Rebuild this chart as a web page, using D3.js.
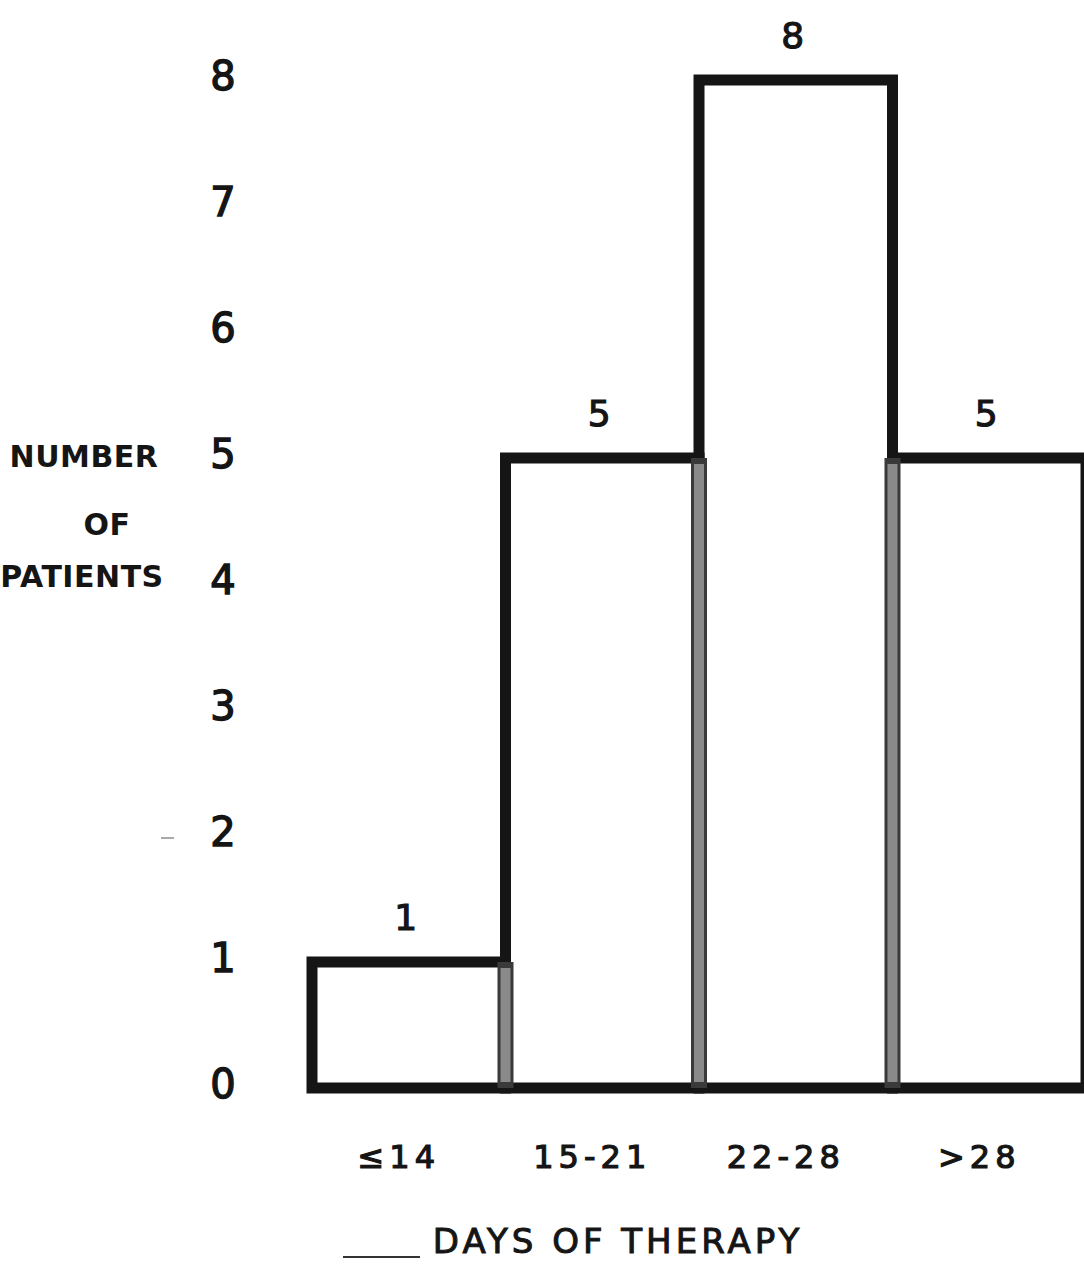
<!DOCTYPE html>
<html>
<head>
<meta charset="utf-8">
<script src="https://cdn.jsdelivr.net/npm/d3@7"></script>
<style>
  body { margin: 0; background: #fff; }
  svg { display: block; }
</style>
</head>
<body>
<svg id="chart"></svg>
<script>
const categories = ['≤14', '15-21', '22-28', '>28'];
const counts = [1, 5, 8, 5];
const yTicks = [0, 1, 2, 3, 4, 5, 6, 7, 8];

const width = 1084, height = 1264;
const ink = '#151515';

const svg = d3.select('#chart')
    .attr('width', width)
    .attr('height', height)
    .style('font-family', 'DejaVu Sans, sans-serif');

svg.append('rect').attr('width', width).attr('height', height).attr('fill', '#fff');

const x = d3.scaleBand()
    .domain(categories)
    .range([312, 1086])
    .padding(0);

const y = d3.scaleLinear()
    .domain([0, 8])
    .range([1088, 80]);

// bars
svg.selectAll('.bar')
    .data(categories)
    .enter()
    .append('rect')
    .attr('class', 'bar')
    .attr('x', d => x(d))
    .attr('y', (d, i) => y(counts[i]))
    .attr('width', x.bandwidth())
    .attr('height', (d, i) => y(0) - y(counts[i]))
    .attr('fill', 'none')
    .attr('stroke', ink)
    .attr('stroke-width', 11);

// shared edges look grey (double stroke in the scan)
const shared = categories.slice(1).map((c, i) => ({
    x: x(c),
    top: y(Math.min(counts[i], counts[i + 1]))
}));

svg.selectAll('.shared')
    .data(shared)
    .enter()
    .append('line')
    .attr('x1', d => d.x)
    .attr('x2', d => d.x)
    .attr('y1', d => d.top)
    .attr('y2', y(0))
    .attr('stroke', '#3a3a3a')
    .attr('stroke-width', 16);

svg.selectAll('.shared-in')
    .data(shared)
    .enter()
    .append('line')
    .attr('x1', d => d.x)
    .attr('x2', d => d.x)
    .attr('y1', d => d.top + 6)
    .attr('y2', y(0) - 6)
    .attr('stroke', '#8a8a8a')
    .attr('stroke-width', 10);

// y tick numbers
svg.selectAll('.ytick')
    .data(yTicks)
    .enter()
    .append('text')
    .attr('class', 'ytick')
    .attr('x', 223)
    .attr('y', d => y(d) + 10)
    .attr('text-anchor', 'middle')
    .attr('font-size', 40)
    .attr('fill', ink)
    .attr('stroke', ink)
    .attr('stroke-width', 1.4)
    .text(d => d);

// value labels
svg.selectAll('.vlabel')
    .data(categories)
    .enter()
    .append('text')
    .attr('class', 'vlabel')
    .attr('x', d => x(d) + x.bandwidth() / 2 - 3)
    .attr('y', (d, i) => y(counts[i]) - 32)
    .attr('text-anchor', 'middle')
    .attr('font-size', 36)
    .attr('fill', ink)
    .attr('stroke', ink)
    .attr('stroke-width', 1.2)
    .text((d, i) => counts[i]);

// category labels
svg.selectAll('.xlabel')
    .data(categories)
    .enter()
    .append('text')
    .attr('class', 'xlabel')
    .attr('x', d => x(d) + x.bandwidth() / 2 - 10)
    .attr('y', 1168)
    .attr('text-anchor', 'middle')
    .attr('font-size', 32)
    .attr('letter-spacing', 5)
    .attr('fill', ink)
    .attr('stroke', ink)
    .attr('stroke-width', 1.2)
    .text(d => d);

// y axis title
const yTitle = [['NUMBER', 84, 467], ['OF', 107, 535], ['PATIENTS', 82, 587]];
svg.selectAll('.ytitle')
    .data(yTitle)
    .enter()
    .append('text')
    .attr('x', d => d[1])
    .attr('y', d => d[2])
    .attr('text-anchor', 'middle')
    .attr('font-size', 30)
    .attr('font-weight', 'bold')
    .attr('letter-spacing', 0.5)
    .attr('fill', ink)
    .text(d => d[0]);

// x axis title
svg.append('text')
    .attr('x', 618)
    .attr('y', 1253)
    .attr('text-anchor', 'middle')
    .attr('font-size', 34)
    .attr('letter-spacing', 4)
    .attr('fill', ink)
    .attr('stroke', ink)
    .attr('stroke-width', 1)
    .text('DAYS OF THERAPY');

// stray pen marks from the scan
svg.append('line')
    .attr('x1', 343).attr('x2', 420)
    .attr('y1', 1257).attr('y2', 1257)
    .attr('stroke', '#333').attr('stroke-width', 2);

svg.append('line')
    .attr('x1', 161).attr('x2', 174)
    .attr('y1', 838).attr('y2', 838)
    .attr('stroke', '#aaa').attr('stroke-width', 2);
</script>
</body>
</html>
